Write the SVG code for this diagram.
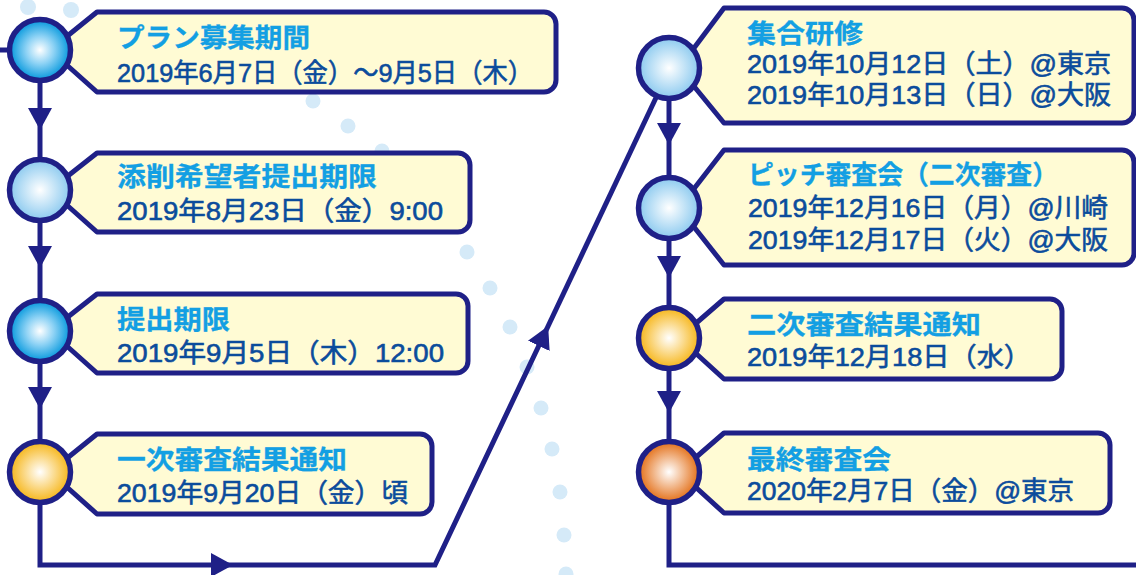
<svg xmlns="http://www.w3.org/2000/svg" width="1136" height="575" viewBox="0 0 1136 575">
<style>
.dot{fill:#d5eaf8}
.conn{fill:none;stroke:#1f2087;stroke-width:5}
.box{fill:#fffbd4;stroke:#1f2087;stroke-width:5;stroke-linejoin:round}
.node{stroke:#1f2087;stroke-width:5.5}
.t1{font-family:"Liberation Sans","Noto Sans CJK JP",sans-serif;font-weight:700;font-size:26.5px;fill:#139fe3;stroke:#139fe3;stroke-width:0.3}
.t2{font-family:"Liberation Sans","Noto Sans CJK JP",sans-serif;font-weight:400;font-size:26.5px;fill:#0b4c9c;stroke:#0b4c9c;stroke-width:0.6}
</style>
<defs>
<marker id="arrow" markerUnits="userSpaceOnUse" viewBox="0 0 22 24" markerWidth="22" markerHeight="24" refX="12" refY="12" orient="auto">
<path d="M0,0 L22,12 L0,24 Z" fill="#1f2087"/>
</marker>
<radialGradient id="gBlue" cx="50%" cy="50%" r="50%">
<stop offset="0" stop-color="#ffffff"/>
<stop offset="0.45" stop-color="#8fd3f5"/>
<stop offset="1" stop-color="#0096dc"/>
</radialGradient>
<radialGradient id="gLight" cx="50%" cy="50%" r="50%">
<stop offset="0" stop-color="#ffffff"/>
<stop offset="1" stop-color="#8ac9ef"/>
</radialGradient>
<radialGradient id="gYellow" cx="50%" cy="50%" r="50%">
<stop offset="0" stop-color="#ffffff"/>
<stop offset="1" stop-color="#f6b414"/>
</radialGradient>
<radialGradient id="gOrange" cx="50%" cy="50%" r="50%">
<stop offset="0" stop-color="#ffffff"/>
<stop offset="1" stop-color="#e36d14"/>
</radialGradient>
</defs>

<g id="dots">
<circle class="dot" cx="28" cy="7" r="8"/>
<circle class="dot" cx="71" cy="10" r="8"/>
<circle class="dot" cx="313" cy="101" r="7.5"/>
<circle class="dot" cx="348" cy="126" r="7.5"/>
<circle class="dot" cx="382" cy="151" r="7.5"/>
<circle class="dot" cx="467" cy="252" r="7.5"/>
<circle class="dot" cx="490" cy="288" r="7.5"/>
<circle class="dot" cx="510" cy="327" r="7.5"/>
<circle class="dot" cx="527" cy="367" r="7.5"/>
<circle class="dot" cx="541" cy="408" r="7.5"/>
<circle class="dot" cx="552" cy="449" r="7.5"/>
<circle class="dot" cx="560" cy="492" r="7.5"/>
<circle class="dot" cx="564" cy="535" r="7.5"/>
<circle class="dot" cx="566" cy="574" r="7.5"/>
</g>

<g id="connectors">
<path class="conn" d="M0,50 H40"/>
<path class="conn" d="M40,80 V120" marker-end="url(#arrow)"/>
<path class="conn" d="M40,120 V165"/>
<path class="conn" d="M40,220 V258" marker-end="url(#arrow)"/>
<path class="conn" d="M40,258 V300"/>
<path class="conn" d="M40,361 V399" marker-end="url(#arrow)"/>
<path class="conn" d="M40,399 V440"/>
<path class="conn" d="M40,500 V565 H223" marker-end="url(#arrow)"/>
<path class="conn" d="M223,565 H435 L543.9,335" marker-end="url(#arrow)"/>
<path class="conn" d="M543.9,335 L662,85"/>
<path class="conn" d="M669,100 V135" marker-end="url(#arrow)"/>
<path class="conn" d="M669,135 V180"/>
<path class="conn" d="M669,240 V268" marker-end="url(#arrow)"/>
<path class="conn" d="M669,268 V307"/>
<path class="conn" d="M669,368 V403" marker-end="url(#arrow)"/>
<path class="conn" d="M669,403 V440"/>
<path class="conn" d="M669,500 V565 H1140"/>
</g>

<g id="node1">
<path class="box" d="M50,50 L97,12 H544 A12,12 0 0 1 556,24 V80 A12,12 0 0 1 544,92 H97 Z"/>
<circle class="node" cx="40" cy="50" r="30.5" fill="url(#gBlue)"/>
<text class="t1" x="117" y="47" textLength="193" lengthAdjust="spacingAndGlyphs">プラン募集期間</text>
<text class="t2" x="117" y="82" textLength="416" lengthAdjust="spacingAndGlyphs">2019年6月7日（金）～9月5日（木）</text>
</g>

<g id="node2">
<path class="box" d="M50,190 L97,153 H458 A12,12 0 0 1 470,165 V220 A12,12 0 0 1 458,232 H97 Z"/>
<circle class="node" cx="40" cy="190" r="30.5" fill="url(#gLight)"/>
<text class="t1" x="117" y="186" textLength="260" lengthAdjust="spacingAndGlyphs">添削希望者提出期限</text>
<text class="t2" x="117" y="220" textLength="326" lengthAdjust="spacingAndGlyphs">2019年8月23日（金）9:00</text>
</g>

<g id="node3">
<path class="box" d="M50,331 L97,294 H456 A12,12 0 0 1 468,306 V361 A12,12 0 0 1 456,373 H97 Z"/>
<circle class="node" cx="40" cy="331" r="30.5" fill="url(#gBlue)"/>
<text class="t1" x="117" y="329" textLength="113" lengthAdjust="spacingAndGlyphs">提出期限</text>
<text class="t2" x="117" y="362" textLength="327" lengthAdjust="spacingAndGlyphs">2019年9月5日（木）12:00</text>
</g>

<g id="node4">
<path class="box" d="M50,472 L97,434 H420 A12,12 0 0 1 432,446 V502 A12,12 0 0 1 420,514 H97 Z"/>
<circle class="node" cx="40" cy="472" r="30.5" fill="url(#gYellow)"/>
<text class="t1" x="117" y="469" textLength="230" lengthAdjust="spacingAndGlyphs">一次審査結果通知</text>
<text class="t2" x="117" y="502" textLength="291" lengthAdjust="spacingAndGlyphs">2019年9月20日（金）頃</text>
</g>

<g id="node5">
<path class="box" d="M679,68 L724,8 H1122 A12,12 0 0 1 1134,20 V111 A12,12 0 0 1 1122,123 H724 Z"/>
<circle class="node" cx="669" cy="68" r="30.5" fill="url(#gLight)"/>
<text class="t1" x="747" y="42.5" textLength="116" lengthAdjust="spacingAndGlyphs">集合研修</text>
<text class="t2" x="747" y="73" textLength="364" lengthAdjust="spacingAndGlyphs">2019年10月12日（土）@東京</text>
<text class="t2" x="747" y="104" textLength="364" lengthAdjust="spacingAndGlyphs">2019年10月13日（日）@大阪</text>
</g>

<g id="node6">
<path class="box" d="M679,208 L724,150 H1122 A12,12 0 0 1 1134,162 V253 A12,12 0 0 1 1122,265 H724 Z"/>
<circle class="node" cx="669" cy="208" r="30.5" fill="url(#gLight)"/>
<text class="t1" x="748" y="184" textLength="310" lengthAdjust="spacingAndGlyphs">ピッチ審査会（二次審査）</text>
<text class="t2" x="748" y="217" textLength="360" lengthAdjust="spacingAndGlyphs">2019年12月16日（月）@川崎</text>
<text class="t2" x="748" y="249" textLength="360" lengthAdjust="spacingAndGlyphs">2019年12月17日（火）@大阪</text>
</g>

<g id="node7">
<path class="box" d="M679,338 L724,299 H1050 A12,12 0 0 1 1062,311 V367 A12,12 0 0 1 1050,379 H724 Z"/>
<circle class="node" cx="669" cy="338" r="30.5" fill="url(#gYellow)"/>
<text class="t1" x="747" y="334" textLength="234" lengthAdjust="spacingAndGlyphs">二次審査結果通知</text>
<text class="t2" x="747" y="366" textLength="284" lengthAdjust="spacingAndGlyphs">2019年12月18日（水）</text>
</g>

<g id="node8">
<path class="box" d="M679,472 L724,433 H1098 A12,12 0 0 1 1110,445 V501 A12,12 0 0 1 1098,513 H724 Z"/>
<circle class="node" cx="669" cy="472" r="30.5" fill="url(#gOrange)"/>
<text class="t1" x="747" y="469" textLength="144" lengthAdjust="spacingAndGlyphs">最終審査会</text>
<text class="t2" x="747" y="500" textLength="327" lengthAdjust="spacingAndGlyphs">2020年2月7日（金）@東京</text>
</g>
</svg>
